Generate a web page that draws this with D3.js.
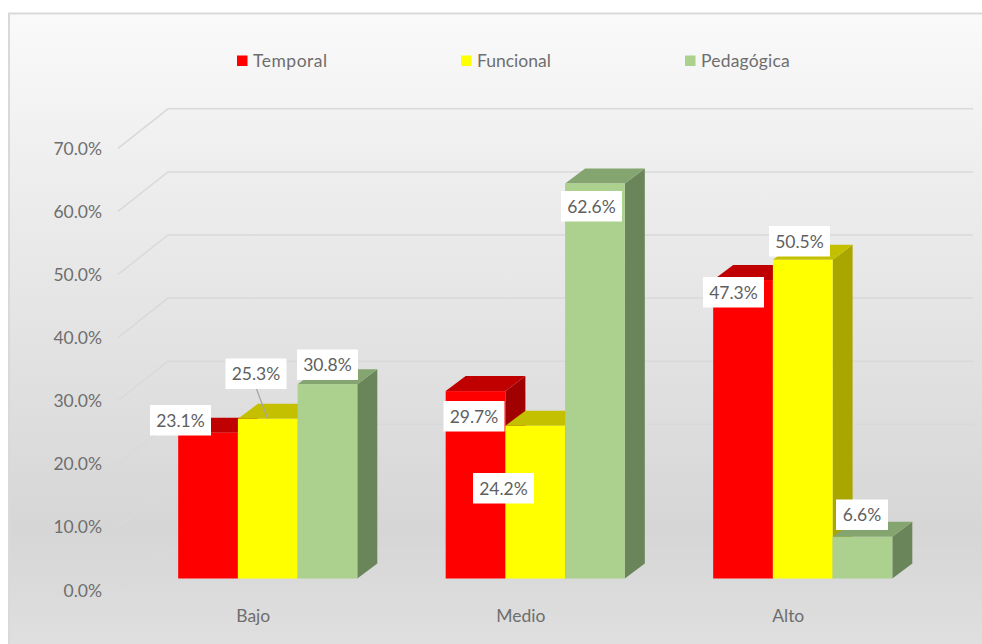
<!DOCTYPE html>
<html><head><meta charset="utf-8">
<script src="https://cdn.jsdelivr.net/npm/d3@7/dist/d3.min.js"></script>
<style>html,body{margin:0;padding:0;background:#fff}svg{display:block}text{font-family:Lato,"Open Sans",sans-serif}</style>
</head><body><svg id="c" width="982" height="644"></svg>
<script>
const categories = ["Bajo","Medio","Alto"];
const seriesNames = ["Temporal","Funcional","Pedagógica"];
const temporal = [23.1,29.7,47.3];
const funcional = [25.3,24.2,50.5];
const pedagogica = [30.8,62.6,6.6];
const ticks = [0,10,20,30,40,50,60,70];
const seriesValues = [temporal,funcional,pedagogica];
const front = ["#ff0000","#ffff00","#acd08d"];
const topC = ["#c00000","#c4c000","#84a570"];
const sideC = ["#a00000","#a9a600","#6b855a"];
// label box left/top in page pixels, per series then category
const labelBox = [[[150,405],[443.5,401],[703,277]],[[225.5,358.5],[473,473],[769,226]],[[297,349.5],[561,191],[836,499.5]]];
const labelW = 61, labelH = 30.5;
const legendSpacing = [0.5,0,0.2];

const svg = d3.select("#c");
const defs = svg.append("defs");
const g = defs.append("linearGradient").attr("id","bg").attr("gradientUnits","userSpaceOnUse").attr("x1",0).attr("x2",0).attr("y1",13).attr("y2",644);
[[0,"#fafafa"],[.25,"#eeeeee"],[.82,"#d6d6d6"],[1,"#dfdfdf"]].forEach(d=>g.append("stop").attr("offset",d[0]).attr("stop-color",d[1]));
svg.append("rect").attr("x",9).attr("y",13.5).attr("width",990).attr("height",650).attr("fill","url(#bg)").attr("stroke","#d9d9d9").attr("stroke-width",2);

const y = d3.scaleLinear().domain([0,70]).range([590,148.3]);
const band = d3.scaleBand().domain(categories).range([134,936.5]);
const inner = d3.scaleBand().domain(d3.range(3)).range([0,band.bandwidth()]).paddingOuter(0.74).paddingInner(0);
const floorDx=50, floorDy=-39.5, barDx=20, barDy=-15, barOff=(590-578.5), catShift=-14.5;

// gridlines
ticks.forEach(t=>{
  svg.append("path").attr("fill","none").attr("stroke", "#d9d9d9").attr("stroke-width",1.5)
   .attr("d",d3.line()([[118,y(t)],[118+floorDx,y(t)+floorDy],[973,y(t)+floorDy]]));
  svg.append("text").attr("x",102).attr("y",y(t)+6.5).attr("text-anchor","end").attr("font-size",17.5).attr("fill","#6e6e6e").text(d3.format(".1f")(t)+"%");
});

const base=y(0)-barOff;
const yv=v=>y(v)-barOff;
categories.forEach((c,ci)=>{
  seriesValues.forEach((vals,s)=>{
    const x0=band(c)+inner(s), w=inner.bandwidth(), t=yv(vals[ci]);
    const b=svg.append("g");
    b.append("polygon").attr("fill",sideC[s]).attr("points",[[x0+w,t],[x0+w+barDx,t+barDy],[x0+w+barDx,base+barDy],[x0+w,base]].join(" "));
    b.append("polygon").attr("fill",topC[s]).attr("points",[[x0,t],[x0+barDx,t+barDy],[x0+w+barDx,t+barDy],[x0+w,t]].join(" "));
    b.append("rect").attr("x",x0).attr("y",t).attr("width",w).attr("height",base-t).attr("fill",front[s]);
  });
  svg.append("text").attr("x",band(c)+band.bandwidth()/2+catShift).attr("y",621.5).attr("text-anchor","middle").attr("font-size",17.5).attr("fill","#6e6e6e").text(c);
});
// leader
const lx=band("Bajo")+inner(1)+inner.bandwidth()/2;
svg.append("line").attr("x1",256.5).attr("y1",389).attr("x2",lx).attr("y2",yv(funcional[0])).attr("stroke","#a6a6a6").attr("stroke-width",1.3);
// data labels
seriesValues.forEach((vals,s)=>vals.forEach((v,ci)=>{
  const [lxx,lyy]=labelBox[s][ci];
  const txt=d3.format(".1f")(v)+"%";
  const w= v<10?52:labelW;
  svg.append("rect").attr("x",lxx).attr("y",lyy).attr("width",w).attr("height",labelH).attr("fill","#fff");
  svg.append("text").attr("x",lxx+w/2).attr("y",lyy+21.5).attr("text-anchor","middle").attr("font-size",17.5).attr("fill","#5f5f5f").text(txt);
}));
// legend
const legendX=[237,461,685];
seriesNames.forEach((n,i)=>{
  svg.append("rect").attr("x",legendX[i]).attr("y",55.5).attr("width",10.5).attr("height",10.5).attr("fill",front[i]);
  svg.append("text").attr("x",legendX[i]+16).attr("y",67).attr("font-size",17.5).attr("letter-spacing",legendSpacing[i]).attr("fill","#6e6e6e").text(n);
});
</script></body></html>
